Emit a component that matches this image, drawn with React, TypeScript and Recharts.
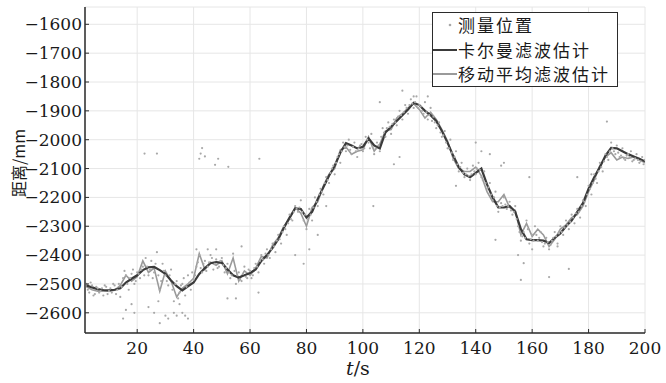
import {
  ComposedChart,
  Line,
  Scatter,
  XAxis,
  YAxis,
  CartesianGrid,
  Legend,
} from "recharts";

// Kalman vs moving-average position estimate.
// Filter outputs sampled every 2 s, measurements every 0.5 s plus stray points.

const FILTER_TIMES = Array.from({ length: 100 }, (_, i) => 2 + i * 2);

const KALMAN = [
  -2505, -2512, -2518, -2521, -2522, -2520, -2515, -2495, -2482, -2470,
  -2452, -2442, -2441, -2452, -2465, -2488, -2508, -2522, -2508, -2495,
  -2465, -2445, -2428, -2424, -2427, -2450, -2470, -2478, -2470, -2462,
  -2450, -2420, -2400, -2375, -2345, -2305, -2270, -2238, -2240, -2270,
  -2250, -2205, -2165, -2125, -2090, -2045, -2012, -2020, -2030, -2025,
  -1995, -2020, -2030, -1975, -1955, -1935, -1915, -1895, -1872, -1880,
  -1900, -1915, -1935, -1970, -2010, -2055, -2095, -2120, -2130, -2115,
  -2100, -2155, -2200, -2235, -2235, -2230, -2250, -2310, -2345, -2348,
  -2348, -2350, -2358, -2340, -2325, -2300, -2280, -2250, -2220, -2170,
  -2130, -2095, -2055, -2028, -2030, -2040, -2050, -2058, -2066, -2075,
];

const MOVING_AVG = [
  -2510, -2520, -2525, -2525, -2525, -2522, -2505, -2470, -2490, -2475,
  -2420, -2460, -2445, -2525, -2455, -2490, -2545, -2515, -2500, -2480,
  -2395, -2450, -2425, -2435, -2420, -2465, -2410, -2490, -2455, -2470,
  -2445, -2405, -2410, -2365, -2340, -2300, -2275, -2235, -2255, -2300,
  -2235, -2215, -2160, -2120, -2100, -2035, -2025, -2050, -2040, -2035,
  -1990, -2040, -2015, -1970, -1965, -1925, -1910, -1890, -1875, -1895,
  -1925, -1905, -1930, -1965, -2005, -2065, -2100, -2110, -2110, -2095,
  -2125, -2180, -2215, -2215, -2190, -2235, -2245, -2330, -2290, -2335,
  -2310, -2330, -2370, -2345, -2310, -2295, -2270, -2260, -2230, -2180,
  -2140, -2090, -2060, -2045, -2070, -2060, -2065, -2060, -2070, -2080,
];

// measurements at whole seconds, t = 2 .. 200
const MEAS_TIMES = Array.from({ length: 199 }, (_, i) => 2 + i);
const MEAS_VALUES = [
  -2500, -2530, -2505, -2535, -2515, -2525, -2540, -2510, -2525, -2530,
  -2505, -2520, -2545, -2480, -2470, -2520, -2465, -2500, -2460, -2480,
  -2440, -2410, -2470, -2420, -2460, -2390, -2520, -2430, -2470, -2505,
  -2450, -2560, -2490, -2530, -2500, -2540, -2470, -2520, -2485, -2440,
  -2400, -2460, -2420, -2440, -2400, -2450, -2415, -2440, -2410, -2460,
  -2430, -2480, -2395, -2500, -2460, -2490, -2440, -2480, -2455, -2470,
  -2430, -2460, -2400, -2430, -2380, -2410, -2360, -2390, -2330, -2360,
  -2300, -2330, -2260, -2280, -2230, -2250, -2210, -2280, -2310, -2240,
  -2280, -2200, -2230, -2170, -2190, -2130, -2150, -2100, -2120, -2060,
  -2080, -2010, -2040, -2000, -2050, -2010, -2060, -2020, -2040, -1990,
  -2010, -1980, -2050, -2010, -2040, -1960, -1990, -1940, -1980, -1930,
  -1950, -1900, -1930, -1880, -1910, -1860, -1890, -1850, -1880, -1900,
  -1870, -1930, -1890, -1920, -1960, -1940, -1990, -1970, -2030, -2000,
  -2070, -2040, -2110, -2080, -2130, -2100, -2140, -2090, -2120, -2080,
  -2130, -2110, -2170, -2150, -2210, -2180, -2250, -2220, -2200, -2240,
  -2215, -2260, -2230, -2300, -2350, -2320, -2280, -2360, -2330, -2300,
  -2350, -2320, -2370, -2340, -2380, -2350, -2320, -2360, -2300, -2330,
  -2280, -2310, -2260, -2290, -2240, -2270, -2210, -2230, -2160, -2190,
  -2120, -2150, -2080, -2110, -2050, -2070, -2010, -2040, -2020, -2060,
  -2030, -2070, -2050, -2040, -2070, -2050, -2080, -2060, -2070,
];

// measurements at half seconds, t = 2.5 .. 199.5
const MEAS_HALF_TIMES = Array.from({ length: 198 }, (_, i) => 2.5 + i);
const MEAS_HALF_VALUES = [
  -2520, -2495, -2540, -2510, -2530, -2515, -2505, -2535, -2515, -2500,
  -2535, -2500, -2510, -2455, -2500, -2480, -2450, -2490, -2465, -2450,
  -2470, -2440, -2450, -2480, -2430, -2470, -2490, -2455, -2490, -2470,
  -2520, -2500, -2550, -2505, -2480, -2510, -2495, -2460, -2470, -2425,
  -2445, -2430, -2455, -2425, -2410, -2430, -2445, -2420, -2435, -2445,
  -2460, -2470, -2455, -2470, -2485, -2465, -2475, -2450, -2480, -2445,
  -2440, -2420, -2415, -2395, -2400, -2380, -2370, -2350, -2345, -2320,
  -2310, -2290, -2275, -2250, -2240, -2235, -2250, -2260, -2275, -2260,
  -2235, -2215, -2190, -2180, -2150, -2140, -2115, -2090, -2080, -2050,
  -2040, -2025, -2020, -2035, -2025, -2040, -2030, -2015, -2030, -2000,
  -2030, -2025, -2030, -2020, -1990, -1975, -1960, -1955, -1945, -1940,
  -1920, -1915, -1905, -1890, -1880, -1875, -1870, -1890, -1885, -1910,
  -1905, -1915, -1935, -1940, -1950, -1975, -1985, -2010, -2030, -2045,
  -2060, -2085, -2095, -2115, -2120, -2125, -2120, -2110, -2100, -2105,
  -2140, -2150, -2165, -2190, -2200, -2230, -2235, -2230, -2225, -2230,
  -2245, -2250, -2275, -2320, -2335, -2340, -2310, -2345, -2350, -2330,
  -2340, -2355, -2360, -2355, -2365, -2340, -2335, -2325, -2320, -2305,
  -2295, -2285, -2270, -2255, -2250, -2230, -2215, -2190, -2170, -2150,
  -2135, -2110, -2095, -2075, -2060, -2040, -2030, -2050, -2045, -2055,
  -2065, -2055, -2060, -2075, -2065, -2070, -2075, -2085,
];

// scattered outliers
const STRAY_TIMES = [
  22.6, 27, 42, 42.5, 43, 44, 47.6, 48.7, 52.3, 63.3, 103.7, 186.5, 15, 16,
  19, 18, 24, 26, 28, 30, 31, 33, 34, 36, 37, 38, 27.5, 35, 52, 55, 63, 41,
  45, 48, 57, 79, 81, 84, 76, 87, 111, 113, 118, 114, 106, 123, 140, 142,
  145, 149, 150, 156, 157, 166, 173, 169, 155, 160, 176, 181, 159, 133, 147,
];
const STRAY_VALUES = [
  -2048, -2048, -2066, -2048, -2029, -2058, -2087, -2066, -2094, -2066,
  -2230, -1937, -2620, -2590, -2600, -2570, -2580, -2600, -2636, -2610,
  -2620, -2600, -2610, -2600, -2610, -2620, -2560, -2570, -2550, -2550,
  -2530, -2380, -2380, -2380, -2370, -2430, -2380, -2330, -2400, -2230,
  -2085, -2060, -1850, -1830, -1870, -1850, -2010, -2040, -2050, -2090,
  -2080, -2486, -2428, -2476, -2448, -2370, -2400, -2380, -2130, -2120,
  -2130, -2160, -2347,
];

const X_TICKS = [20, 40, 60, 80, 100, 120, 140, 160, 180, 200];
const Y_TICKS = [-2600, -2500, -2400, -2300, -2200, -2100, -2000, -1900, -1800, -1700, -1600];

const SERIES_NAMES = ["测量位置", "卡尔曼滤波估计", "移动平均滤波估计"];

const AXIS = "#2b2b2b";
const KALMAN_COLOR = "#3a3a3a";
const MA_COLOR = "#9a9a9a";
const DOT_COLOR = "#a8a8a8";
const NUM_FONT = "DejaVu Serif, Liberation Serif, serif";
const CJK_FONT = "Noto Sans CJK SC, sans-serif";

const lineRows = FILTER_TIMES.map((t, i) => ({ t, kalman: KALMAN[i], ma: MOVING_AVG[i] }));
const measRows = [
  ...MEAS_TIMES.map((t, i) => ({ t, v: MEAS_VALUES[i] })),
  ...MEAS_HALF_TIMES.map((t, i) => ({ t, v: MEAS_HALF_VALUES[i] })),
  ...STRAY_TIMES.map((t, i) => ({ t, v: STRAY_VALUES[i] })),
].filter((r) => r.v !== undefined);

const fmt = (v: number) => String(v).replace("-", "\u2212");

function BottomTick({ x, y, payload }: any) {
  return (
    <g>
      <line x1={x} y1={y} x2={x} y2={y - 4} stroke={AXIS} />
      <text x={x} y={y + 21} textAnchor="middle" fontFamily={NUM_FONT} fontSize={17} fill="#1a1a1a">
        {payload.value}
      </text>
    </g>
  );
}

function TopTick({ x, y }: any) {
  return <line x1={x} y1={y} x2={x} y2={y + 4} stroke={AXIS} />;
}

function LeftTick({ x, y, payload }: any) {
  return (
    <g>
      <line x1={x} y1={y} x2={x + 4} y2={y} stroke={AXIS} />
      <text x={x - 3} y={y + 6} textAnchor="end" fontFamily={NUM_FONT} fontSize={17} fill="#1a1a1a">
        {fmt(payload.value)}
      </text>
    </g>
  );
}

function RightTick({ x, y }: any) {
  return <line x1={x} y1={y} x2={x - 4} y2={y} stroke={AXIS} />;
}

function Dot({ cx, cy }: any) {
  if (cx == null || cy == null) return null;
  return <circle cx={cx} cy={cy} r={1.1} fill={DOT_COLOR} />;
}

function LegendBox() {
  return (
    <div
      style={{
        boxSizing: "border-box",
        width: 186,
        height: 75,
        border: `1.5px solid ${AXIS}`,
        background: "#fff",
        fontFamily: CJK_FONT,
        fontSize: 17,
        letterSpacing: 2,
        color: "#1a1a1a",
        paddingTop: 0,
      }}
    >
      {SERIES_NAMES.map((name, i) => (
        <div key={name} style={{ display: "flex", alignItems: "center", height: 24.5 }}>
          <svg width={25} height={22} style={{ flex: "none" }}>
            {i === 0 ? (
              <circle cx={17} cy={11} r={1.3} fill={DOT_COLOR} />
            ) : (
              <line
                x1={0}
                y1={11}
                x2={24}
                y2={11}
                stroke={i === 1 ? KALMAN_COLOR : MA_COLOR}
                strokeWidth={2}
              />
            )}
          </svg>
          <span style={{ whiteSpace: "nowrap", lineHeight: "20px" }}>{name}</span>
        </div>
      ))}
    </div>
  );
}

export default function App() {
  return (
    <div style={{ position: "absolute", left: 0, top: 0, width: 666, height: 383, background: "#fff" }}>
      <ComposedChart
        width={666}
        height={383}
        data={lineRows}
        margin={{ top: 7, right: 21, bottom: 0, left: 0 }}
      >
        <CartesianGrid stroke="#e6e6e6" strokeWidth={1} />
        <XAxis
          dataKey="t"
          type="number"
          domain={[1.5, 200]}
          allowDataOverflow
          ticks={X_TICKS}
          height={50}
          tickSize={0}
          tickMargin={0}
          tickLine={false}
          tick={<BottomTick />}
          axisLine={{ stroke: AXIS, strokeWidth: 1.5 }}
          label={() => (
            <text x={346} y={375} fontFamily={NUM_FONT} fontSize={19} fill="#1a1a1a">
              <tspan fontStyle="italic">t</tspan>
              <tspan>/s</tspan>
            </text>
          )}
        />
        <XAxis
          xAxisId="top"
          orientation="top"
          type="number"
          domain={[1.5, 200]}
          allowDataOverflow
          ticks={X_TICKS}
          height={0}
          tickSize={0}
          tickMargin={0}
          tickLine={false}
          tick={<TopTick />}
          axisLine={{ stroke: AXIS, strokeWidth: 1.5 }}
        />
        <YAxis
          type="number"
          domain={[-2670, -1540]}
          allowDataOverflow
          ticks={Y_TICKS}
          width={85}
          tickSize={0}
          tickMargin={0}
          tickLine={false}
          tick={<LeftTick />}
          axisLine={{ stroke: AXIS, strokeWidth: 1.5 }}
          label={() => (
            <text
              x={18}
              y={163}
              transform="rotate(-90 18 163)"
              textAnchor="middle"
              dominantBaseline="central"
              fontFamily={CJK_FONT}
              fontSize={16}
              fill="#1a1a1a"
            >
              距离/mm
            </text>
          )}
        />
        <YAxis
          yAxisId="right"
          orientation="right"
          type="number"
          domain={[-2670, -1540]}
          allowDataOverflow
          ticks={Y_TICKS}
          width={0}
          tickSize={0}
          tickMargin={0}
          tickLine={false}
          tick={<RightTick />}
          axisLine={{ stroke: AXIS, strokeWidth: 1.5 }}
        />
        <Scatter data={measRows} dataKey="v" shape={<Dot />} isAnimationActive={false} />
        <Line
          dataKey="ma"
          stroke={MA_COLOR}
          strokeWidth={1.6}
          dot={false}
          type="linear"
          isAnimationActive={false}
        />
        <Line
          dataKey="kalman"
          stroke={KALMAN_COLOR}
          strokeWidth={2.2}
          dot={false}
          type="linear"
          isAnimationActive={false}
        />
        <Legend
          layout="vertical"
          align="center"
          verticalAlign="middle"
          content={() => <LegendBox />}
          wrapperStyle={{ position: "absolute", left: 432, top: 12, width: 186, height: 75 }}
        />
      </ComposedChart>
    </div>
  );
}
